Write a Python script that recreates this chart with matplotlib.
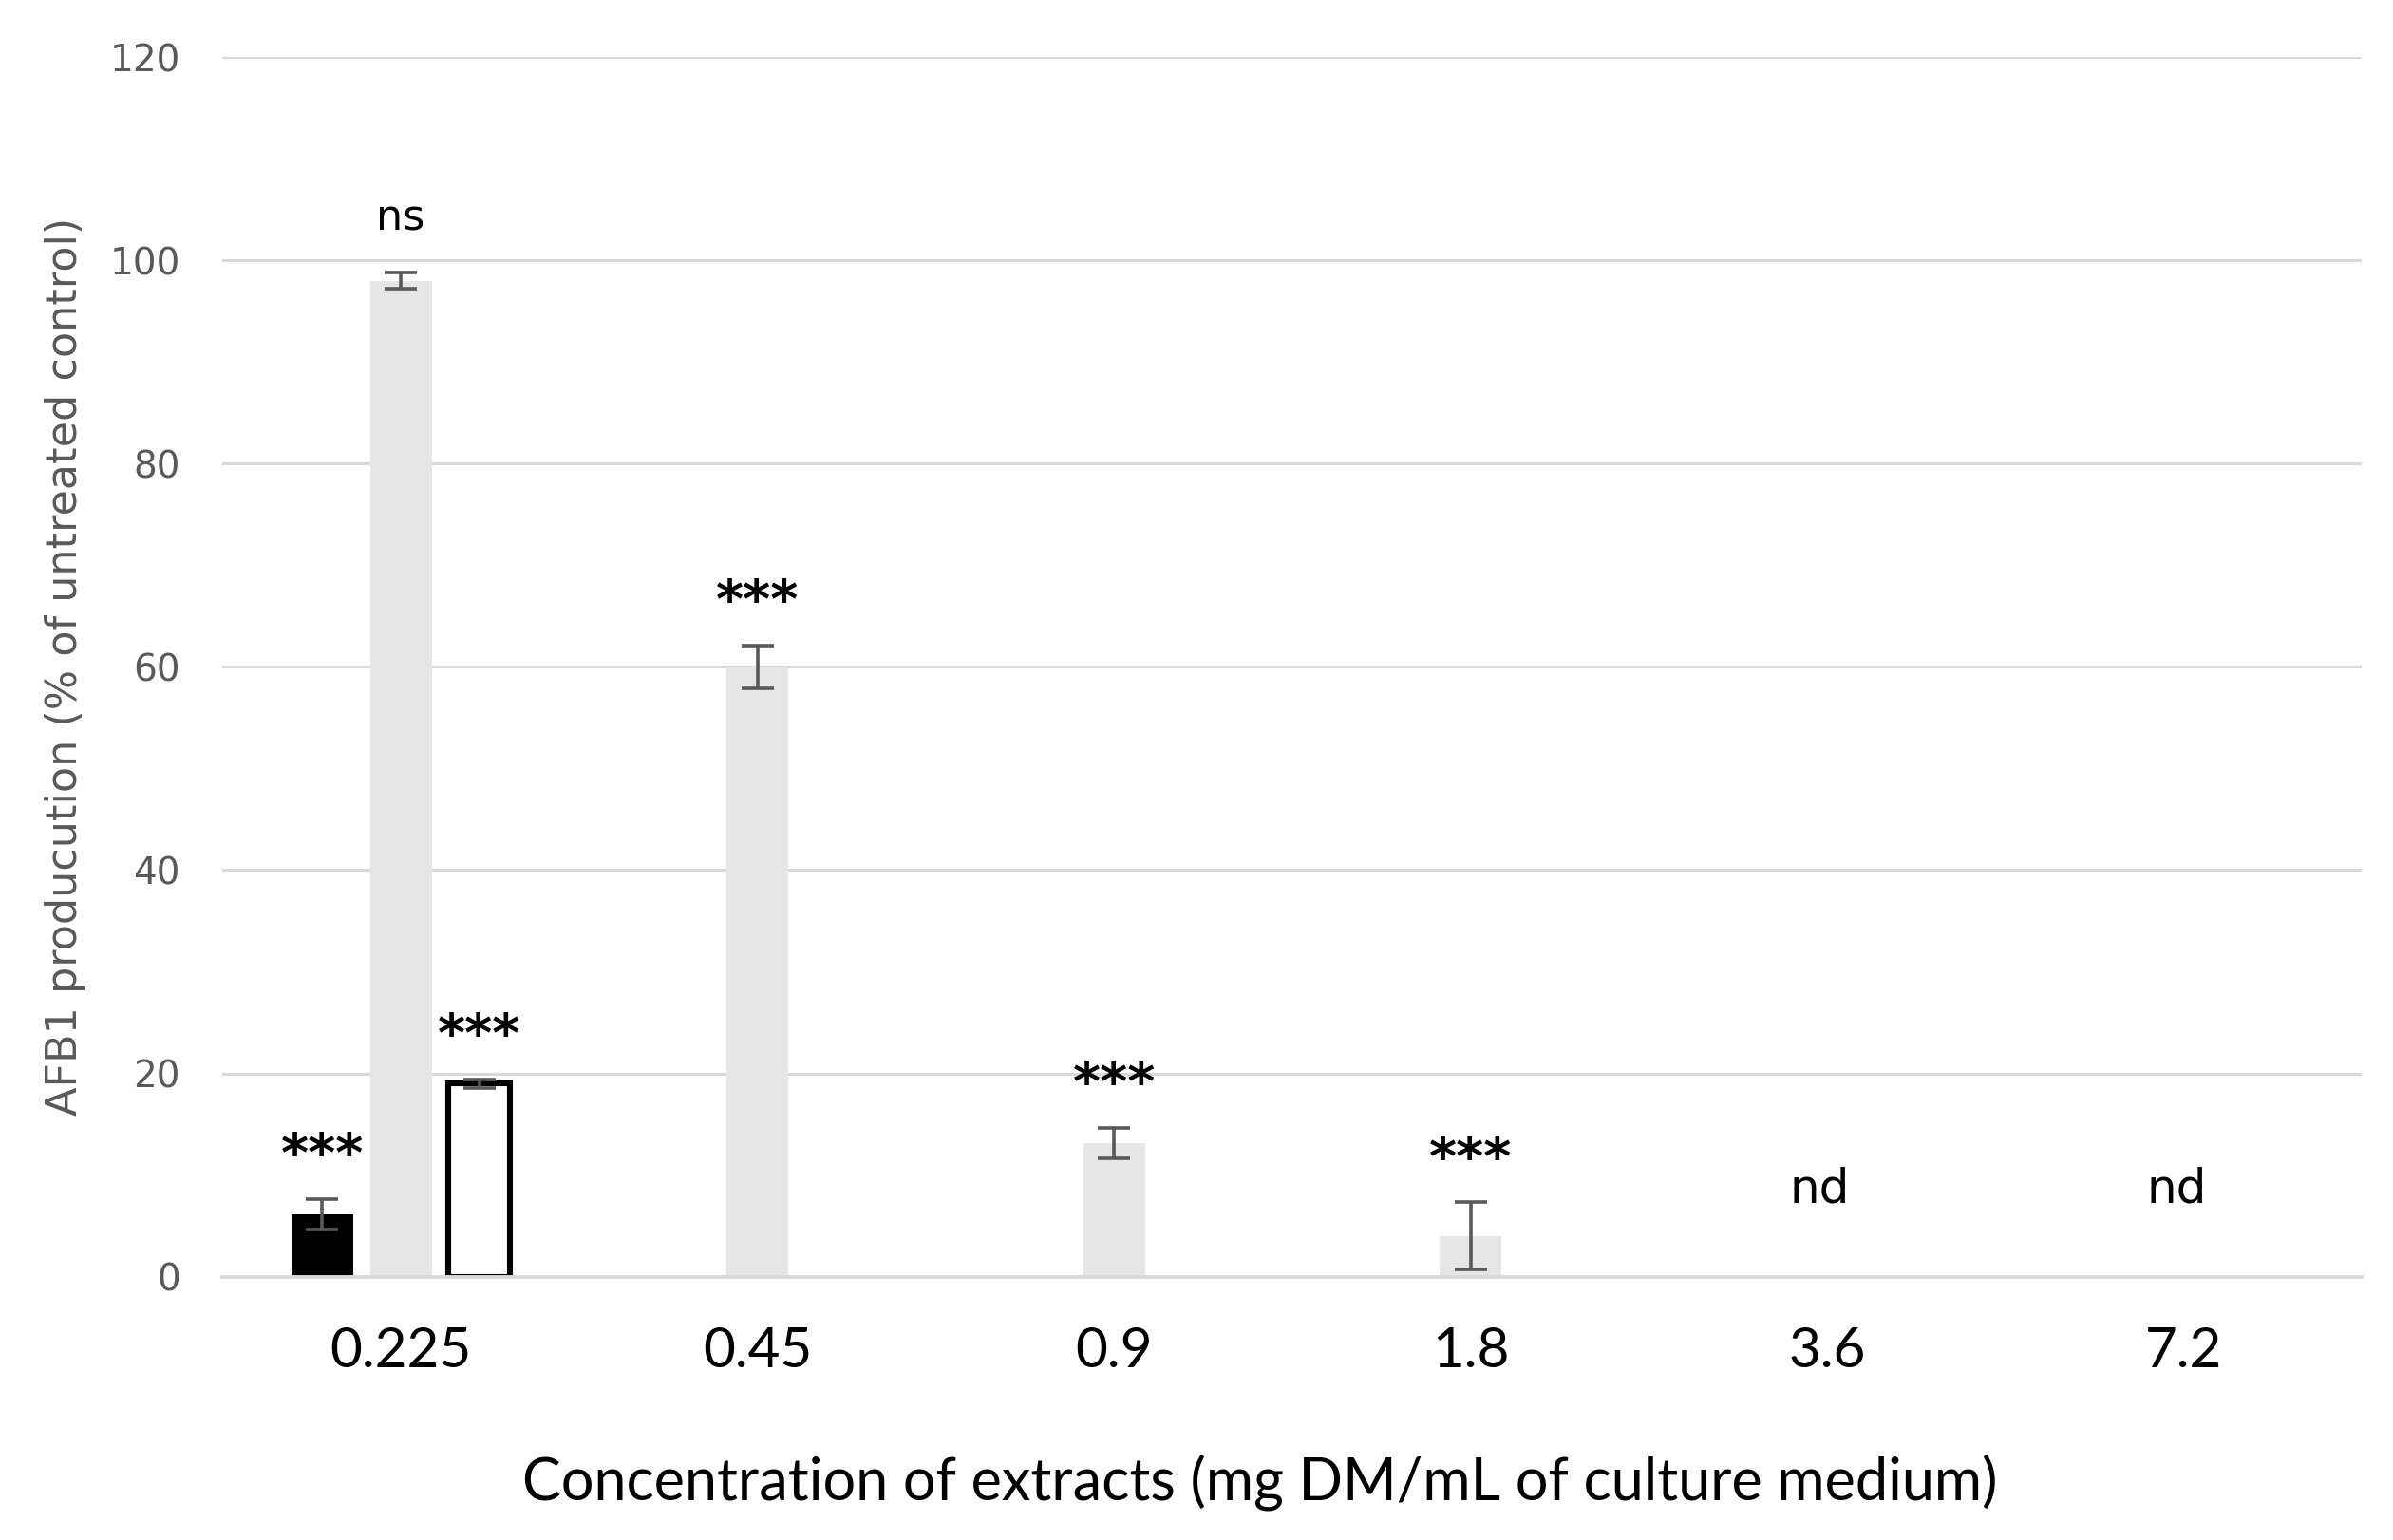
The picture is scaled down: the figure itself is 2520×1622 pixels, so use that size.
import numpy as np
import matplotlib
matplotlib.use("Agg")
import matplotlib.pyplot as plt

# concentrations (mg DM/mL of culture medium)
concentrations = ["0.225", "0.45", "0.9", "1.8", "3.6", "7.2"]

# AFB1 production (% of untreated control), nan = no bar
black_vals = [6.1, np.nan, np.nan, np.nan, np.nan, np.nan]
black_err = [1.5, np.nan, np.nan, np.nan, np.nan, np.nan]
grey_vals = [98.0, 60.0, 13.1, 4.0, np.nan, np.nan]
grey_err = [0.8, 2.1, 1.5, 3.3, np.nan, np.nan]
white_vals = [19.0, np.nan, np.nan, np.nan, np.nan, np.nan]
white_err = [0.4, np.nan, np.nan, np.nan, np.nan, np.nan]

# significance labels
black_sig = ["***", "", "", "", "", ""]
grey_sig = ["ns", "***", "***", "***", "nd", "nd"]
white_sig = ["***", "", "", "", "", ""]

calib = ["Lato", "DejaVu Sans"]

fig = plt.figure(figsize=(12.6, 8.11), dpi=200)
ax = fig.add_axes([0.093, 0.171, 0.894, 0.792])

x = np.arange(len(concentrations))
w = 0.173
off = 0.22
ecol = "#595959"
ekw = dict(ecolor=ecol, elinewidth=1.3, capsize=6, capthick=1.3)

ax.bar(x - off, black_vals, w, color="black", yerr=black_err, error_kw=ekw, zorder=2)
ax.bar(x, grey_vals, w, color="#e7e6e6", yerr=grey_err, error_kw=ekw, zorder=2)
ax.bar(x + off, white_vals, w, color="white", edgecolor="black", linewidth=2.2,
       yerr=white_err, error_kw=ekw, zorder=2)

# significance text above bars
for dx, vals, errs, sigs in [(-off, black_vals, black_err, black_sig),
                             (0, grey_vals, grey_err, grey_sig),
                             (off, white_vals, white_err, white_sig)]:
    for i, s in enumerate(sigs):
        if not s:
            continue
        if s == "nd":
            ax.text(x[i] - 0.02, 8.6, s, ha="center", va="center", fontsize=18,
                    family="DejaVu Sans", color="black")
        elif s == "***":
            top = vals[i] + errs[i]
            ax.text(x[i] + dx, top + 4.2, s, ha="center", va="center",
                    fontsize=20, fontweight="bold", color="black")
        else:
            top = vals[i] + errs[i]
            ax.text(x[i] + dx, top + 5.3, s, ha="center", va="center",
                    fontsize=16, color="black")

ax.set_xlim(-0.5, 5.5)
ax.set_ylim(0, 120)
ax.set_yticks(np.arange(0, 121, 20))
ax.yaxis.grid(True, color="#d9d9d9", linewidth=1.1, zorder=0)
ax.set_axisbelow(True)
for s in ["top", "right", "left"]:
    ax.spines[s].set_visible(False)
ax.spines["bottom"].set_color("#d9d9d9")
ax.spines["bottom"].set_linewidth(1.4)
ax.spines["bottom"].set_zorder(3)

ax.set_xticks(x)
ax.set_xticklabels(concentrations, fontsize=21, family=calib)
ax.tick_params(axis="x", length=0, pad=19)
ax.tick_params(axis="y", length=0, pad=16, labelsize=14, labelcolor="#595959")

ax.set_ylabel("AFB1 producution (% of untreated control)", fontsize=16,
              color="#595959")
ax.yaxis.set_label_coords(-0.064, 0.5)
ax.set_xlabel("Concentration of extracts (mg DM/mL of culture medium)",
              fontsize=22, family=calib)
ax.xaxis.set_label_coords(0.485, -0.145)

fig.savefig("out.png", dpi=200, facecolor="white")
